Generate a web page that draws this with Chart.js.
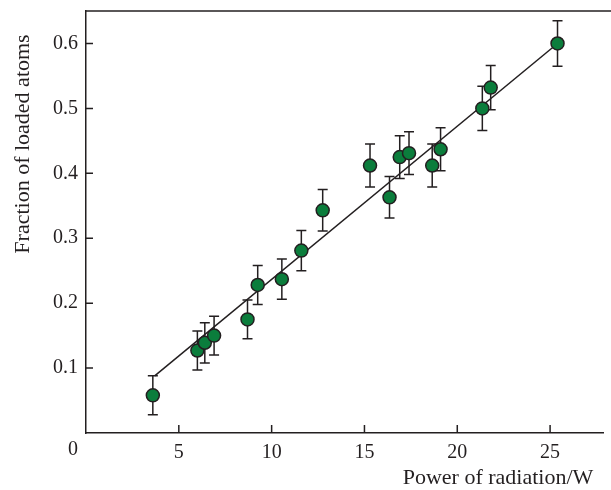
<!DOCTYPE html>
<html>
<head>
<meta charset="utf-8">
<script src="https://cdn.jsdelivr.net/npm/chart.js@4/dist/chart.umd.min.js"></script>
<style>
  html, body { margin: 0; padding: 0; background: #fff; overflow: hidden; }
  #wrap { width: 700px; height: 490px; }
</style>
</head>
<body>
<div id="wrap"><canvas id="chart" width="611" height="490"></canvas></div>
<script>
// measured points
const powerW = [3.6, 6.0, 6.4, 6.9, 8.7, 9.25, 10.55, 11.6, 12.75, 15.3, 16.35, 16.9, 17.4, 18.65, 19.1, 21.35, 21.8, 25.4];
const fraction = [0.058, 0.127, 0.139, 0.150, 0.175, 0.228, 0.237, 0.281, 0.343, 0.412, 0.363, 0.425, 0.431, 0.412, 0.437, 0.500, 0.532, 0.600];
const fractionErr = [0.030, 0.030, 0.031, 0.030, 0.030, 0.030, 0.031, 0.031, 0.032, 0.033, 0.032, 0.033, 0.033, 0.033, 0.033, 0.034, 0.034, 0.035];

// linear fit, drawn between its two ends
const fitX = [3.7, 25.4];
const fitY = [0.088, 0.600];

const xTitle = 'Power of radiation/W';
const yTitle = 'Fraction of loaded atoms';

const ink = '#231f20';
const green = '#0b7d3c';
const serif = 'Liberation Serif';

const isStep = (v, step) => Math.abs(v / step - Math.round(v / step)) < 1e-6;

const framePlugin = {
  id: 'frame',
  beforeDatasetsDraw(chart) {
    // error bars, under the circles
    const ctx = chart.ctx;
    const xs = chart.scales.x, ys = chart.scales.y;
    ctx.save();
    ctx.strokeStyle = ink;
    ctx.lineWidth = 1.5;
    powerW.forEach((p, i) => {
      const px = xs.getPixelForValue(p);
      const top = ys.getPixelForValue(fraction[i] + fractionErr[i]);
      const bot = ys.getPixelForValue(fraction[i] - fractionErr[i]);
      ctx.beginPath();
      ctx.moveTo(px, top); ctx.lineTo(px, bot);
      ctx.moveTo(px - 5, top); ctx.lineTo(px + 5, top);
      ctx.moveTo(px - 5, bot); ctx.lineTo(px + 5, bot);
      ctx.stroke();
    });
    ctx.restore();
  },
  afterDraw(chart) {
    const ctx = chart.ctx;
    const a = chart.chartArea;
    const xs = chart.scales.x, ys = chart.scales.y;
    ctx.save();
    ctx.strokeStyle = ink;
    ctx.lineWidth = 1.5;
    // top frame line
    ctx.beginPath();
    ctx.moveTo(a.left, a.top); ctx.lineTo(chart.width, a.top);
    ctx.stroke();
    // inward ticks
    ctx.beginPath();
    xs.ticks.forEach(t => {
      if (t.value === 0 || !isStep(t.value, 5)) return;
      const px = xs.getPixelForValue(t.value);
      ctx.moveTo(px, a.bottom); ctx.lineTo(px, a.bottom - 8);
    });
    ys.ticks.forEach(t => {
      if (t.value === 0 || !isStep(t.value, 0.1)) return;
      const py = ys.getPixelForValue(t.value);
      ctx.moveTo(a.left, py); ctx.lineTo(a.left + 7, py);
    });
    ctx.stroke();

    ctx.fillStyle = ink;
    ctx.textAlign = 'center';
    ctx.textBaseline = 'middle';
    // shared origin label
    ctx.font = '20px "' + serif + '"';
    ctx.fillText('0', a.left - 13, a.bottom + 17);
    // axis titles
    ctx.font = '22px "' + serif + '"';
    ctx.fillText(xTitle, 498, 478);
    ctx.translate(23, 144);
    ctx.rotate(-Math.PI / 2);
    ctx.fillText(yTitle, 0, 0);
    ctx.restore();
  }
};

const chart = new Chart(document.getElementById('chart'), {
  type: 'scatter',
  data: {
    datasets: [
      {
        label: 'fit',
        type: 'line',
        data: fitX.map((x, i) => ({ x: x, y: fitY[i] })),
        borderColor: ink,
        borderWidth: 1.5,
        pointRadius: 0,
        fill: false,
        order: 2
      },
      {
        label: 'measured',
        data: powerW.map((x, i) => ({ x: x, y: fraction[i] })),
        backgroundColor: green,
        borderColor: ink,
        borderWidth: 1.5,
        pointRadius: 6.5,
        order: 1
      }
    ]
  },
  options: {
    responsive: false,
    animation: false,
    devicePixelRatio: 1,
    layout: { padding: { top: 11, right: 1, left: 0, bottom: 0 } },
    plugins: {
      legend: { display: false },
      tooltip: { enabled: false }
    },
    scales: {
      x: {
        type: 'linear',
        min: 0,
        max: 27.85,
        grid: { display: false },
        border: { display: true, color: ink, width: 1.5 },
        ticks: {
          stepSize: 5,
          includeBounds: false,
          padding: 0,
          maxRotation: 0,
          color: ink,
          font: { family: serif, size: 20 },
          callback: v => (v !== 0 && isStep(v, 5)) ? String(v) : ''
        },
        afterFit: s => { s.height = 57; s.paddingLeft = 0; s.paddingRight = 0; }
      },
      y: {
        min: 0,
        max: 0.65,
        grid: { display: false },
        border: { display: true, color: ink, width: 1.5 },
        ticks: {
          stepSize: 0.1,
          includeBounds: false,
          padding: 0,
          color: ink,
          font: { family: serif, size: 20 },
          callback: v => (v !== 0 && isStep(v, 0.1)) ? v.toFixed(1) : ''
        },
        afterFit: s => { s.width = 86; s.paddingTop = 0; s.paddingBottom = 0; }
      }
    }
  },
  plugins: [framePlugin]
});

// the layout keeps a few pixels free on the right; widen the canvas (past the window edge) so the plot reaches it
for (let k = 0; k < 3; k++) {
  const gap = Math.round(610 - chart.chartArea.right);
  if (gap < 1) break;
  chart.resize(chart.width + gap, 490);
}
</script>
</body>
</html>
